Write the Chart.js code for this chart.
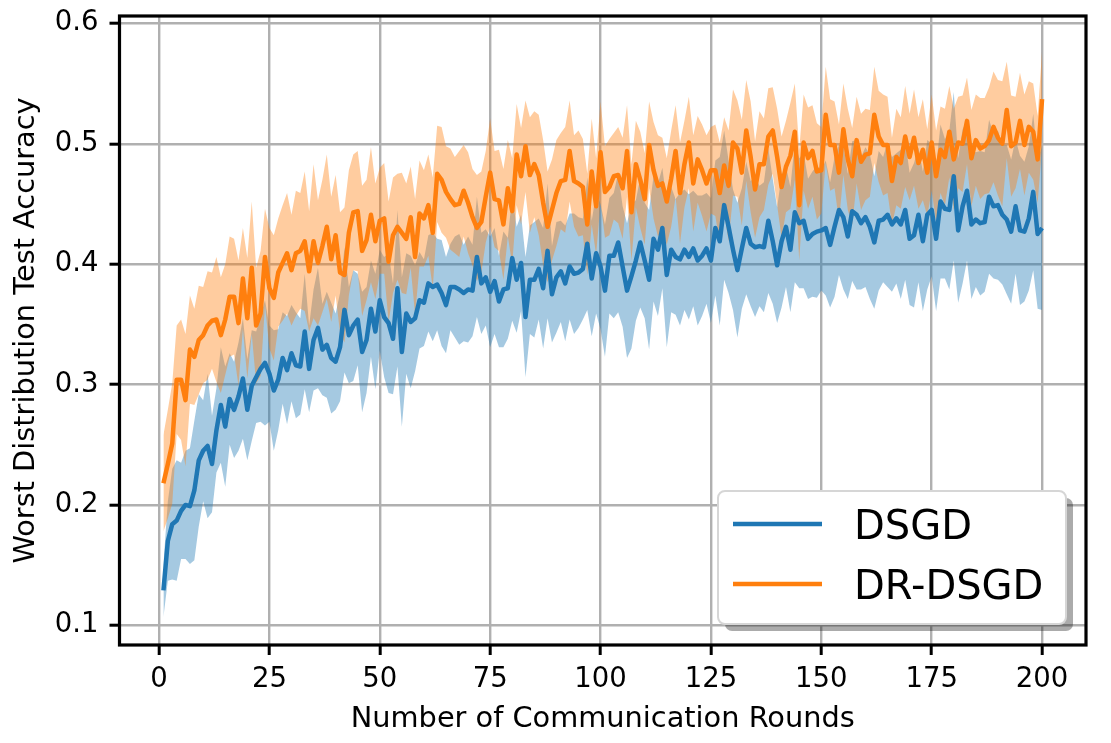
<!DOCTYPE html>
<html><head><meta charset="utf-8">
<script src="https://cdn.jsdelivr.net/npm/chart.js@4.4.0/dist/chart.umd.min.js"></script>
<style>html,body{margin:0;padding:0;background:#fff;overflow:hidden}</style>
</head><body>
<canvas id="c" width="1111" height="743" style="width:1111px;height:743px;display:block"></canvas>
<script>
const rounds = Array.from({length: 200}, (_, i) => i + 1);
const xTicks = [0, 25, 50, 75, 100, 125, 150, 175, 200];
const yTicks = [0.1, 0.2, 0.3, 0.4, 0.5, 0.6];
const seriesNames = ['DSGD', 'DR-DSGD'];

const dsgdMean = [
0.129,0.170,0.184,0.187,0.195,0.200,0.199,0.212,0.237,0.245,
0.249,0.234,0.262,0.283,0.265,0.288,0.279,0.290,0.305,0.279,
0.299,0.306,0.313,0.318,0.309,0.295,0.304,0.322,0.312,0.326,
0.316,0.315,0.344,0.313,0.337,0.347,0.329,0.333,0.322,0.319,
0.331,0.362,0.341,0.349,0.354,0.327,0.337,0.363,0.344,0.370,
0.356,0.351,0.338,0.380,0.327,0.359,0.352,0.355,0.370,0.368,
0.384,0.381,0.383,0.376,0.366,0.381,0.381,0.379,0.376,0.379,
0.378,0.406,0.384,0.389,0.377,0.386,0.369,0.379,0.380,0.405,
0.387,0.401,0.356,0.387,0.387,0.396,0.380,0.411,0.375,0.389,
0.394,0.384,0.398,0.392,0.393,0.396,0.417,0.388,0.409,0.398,
0.378,0.407,0.407,0.418,0.398,0.378,0.390,0.403,0.418,0.403,
0.387,0.421,0.412,0.430,0.391,0.412,0.406,0.404,0.412,0.406,
0.413,0.403,0.407,0.413,0.403,0.430,0.419,0.449,0.431,0.412,
0.395,0.413,0.430,0.417,0.414,0.415,0.414,0.436,0.419,0.399,
0.419,0.431,0.412,0.443,0.434,0.436,0.421,0.425,0.427,0.428,
0.430,0.416,0.431,0.445,0.439,0.423,0.444,0.441,0.434,0.439,
0.431,0.418,0.436,0.437,0.441,0.433,0.438,0.433,0.445,0.421,
0.424,0.441,0.419,0.441,0.445,0.421,0.452,0.446,0.445,0.473,
0.428,0.448,0.461,0.433,0.437,0.434,0.435,0.456,0.448,0.449,
0.441,0.437,0.427,0.448,0.428,0.427,0.438,0.460,0.425,0.430
];
const dsgdStd = [
0.022,0.033,0.046,0.050,0.040,0.045,0.048,0.058,0.055,0.042,
0.060,0.040,0.035,0.048,0.050,0.038,0.040,0.045,0.050,0.042,
0.046,0.038,0.044,0.052,0.040,0.050,0.042,0.038,0.045,0.040,
0.044,0.040,0.048,0.036,0.042,0.050,0.038,0.044,0.046,0.040,
0.045,0.052,0.040,0.046,0.038,0.050,0.044,0.040,0.048,0.042,
0.050,0.058,0.046,0.065,0.062,0.050,0.055,0.044,0.040,0.036,
0.040,0.045,0.038,0.044,0.040,0.036,0.042,0.046,0.040,0.044,
0.038,0.050,0.042,0.040,0.046,0.044,0.038,0.048,0.042,0.052,
0.044,0.040,0.050,0.045,0.048,0.042,0.050,0.056,0.040,0.046,
0.042,0.048,0.044,0.050,0.046,0.042,0.055,0.048,0.050,0.052,
0.055,0.048,0.052,0.058,0.050,0.056,0.060,0.050,0.054,0.048,
0.058,0.052,0.055,0.050,0.060,0.052,0.048,0.055,0.050,0.052,
0.048,0.054,0.050,0.046,0.052,0.056,0.070,0.062,0.055,0.050,
0.056,0.050,0.055,0.052,0.058,0.050,0.054,0.060,0.052,0.048,
0.055,0.050,0.052,0.058,0.054,0.056,0.050,0.052,0.055,0.050,
0.056,0.052,0.058,0.054,0.060,0.052,0.058,0.062,0.055,0.058,
0.060,0.055,0.058,0.052,0.060,0.056,0.054,0.062,0.058,0.055,
0.060,0.056,0.058,0.062,0.055,0.060,0.064,0.058,0.066,0.070,
0.060,0.064,0.058,0.062,0.056,0.060,0.058,0.064,0.060,0.062,
0.058,0.062,0.060,0.056,0.062,0.058,0.060,0.065,0.062,0.068
];
const drMean = [
0.218,0.234,0.251,0.304,0.304,0.287,0.329,0.323,0.337,0.341,
0.349,0.353,0.354,0.341,0.354,0.373,0.373,0.351,0.388,0.355,
0.397,0.349,0.359,0.406,0.380,0.372,0.393,0.401,0.409,0.395,
0.409,0.411,0.419,0.394,0.419,0.401,0.415,0.431,0.404,0.424,
0.393,0.391,0.426,0.443,0.444,0.411,0.420,0.441,0.419,0.436,
0.438,0.402,0.424,0.431,0.426,0.421,0.439,0.406,0.442,0.438,
0.449,0.426,0.475,0.470,0.460,0.454,0.449,0.450,0.461,0.451,
0.439,0.430,0.435,0.456,0.476,0.454,0.453,0.433,0.463,0.444,
0.491,0.473,0.498,0.474,0.483,0.474,0.451,0.431,0.445,0.459,
0.469,0.470,0.494,0.469,0.467,0.464,0.433,0.477,0.448,0.493,
0.460,0.464,0.473,0.474,0.463,0.494,0.443,0.483,0.470,0.454,
0.499,0.478,0.465,0.467,0.452,0.471,0.494,0.459,0.483,0.501,
0.467,0.487,0.478,0.467,0.478,0.478,0.459,0.482,0.465,0.501,
0.496,0.476,0.511,0.489,0.462,0.483,0.483,0.506,0.511,0.489,
0.464,0.481,0.490,0.510,0.449,0.501,0.488,0.494,0.477,0.478,
0.524,0.499,0.499,0.476,0.512,0.487,0.473,0.503,0.485,0.491,
0.492,0.524,0.506,0.499,0.499,0.469,0.489,0.484,0.506,0.489,
0.505,0.484,0.495,0.476,0.501,0.473,0.495,0.489,0.510,0.487,
0.501,0.500,0.519,0.488,0.503,0.496,0.498,0.503,0.514,0.505,
0.500,0.528,0.498,0.501,0.519,0.499,0.514,0.510,0.487,0.537
];
const drStd = [
0.040,0.045,0.050,0.045,0.050,0.055,0.045,0.040,0.045,0.040,
0.045,0.040,0.052,0.048,0.046,0.050,0.048,0.052,0.042,0.050,
0.055,0.048,0.052,0.040,0.050,0.052,0.045,0.048,0.050,0.046,
0.052,0.048,0.058,0.050,0.064,0.052,0.055,0.060,0.052,0.050,
0.050,0.056,0.052,0.048,0.050,0.054,0.050,0.056,0.048,0.044,
0.046,0.050,0.048,0.044,0.050,0.046,0.042,0.048,0.044,0.040,
0.042,0.046,0.040,0.044,0.038,0.042,0.040,0.044,0.038,0.042,
0.040,0.044,0.042,0.038,0.045,0.040,0.042,0.046,0.040,0.044,
0.042,0.040,0.038,0.048,0.044,0.050,0.052,0.046,0.042,0.044,
0.040,0.044,0.042,0.038,0.044,0.040,0.042,0.044,0.040,0.042,
0.038,0.040,0.036,0.040,0.042,0.038,0.040,0.036,0.040,0.038,
0.036,0.040,0.042,0.038,0.036,0.040,0.038,0.042,0.036,0.038,
0.040,0.036,0.038,0.040,0.036,0.038,0.042,0.040,0.046,0.044,
0.040,0.044,0.042,0.046,0.040,0.044,0.038,0.040,0.036,0.040,
0.042,0.038,0.044,0.040,0.046,0.040,0.042,0.038,0.040,0.036,
0.040,0.038,0.036,0.040,0.038,0.042,0.040,0.036,0.040,0.038,
0.036,0.040,0.038,0.042,0.040,0.036,0.040,0.038,0.042,0.036,
0.040,0.038,0.042,0.036,0.040,0.038,0.036,0.040,0.038,0.042,
0.038,0.040,0.036,0.040,0.038,0.042,0.040,0.044,0.046,0.048,
0.052,0.040,0.042,0.038,0.040,0.042,0.038,0.040,0.036,0.040
];

const BLUE = '#1f77b4', ORANGE = '#ff7f0e';
const BLUE_BAND = 'rgba(31,119,180,0.4)', ORANGE_BAND = 'rgba(255,127,14,0.4)';
const FONT = "'DejaVu Sans', sans-serif";

const pts = (arr) => rounds.map((r, i) => ({x: r, y: arr[i]}));
const band = (m, s, sign) => rounds.map((r, i) => ({x: r, y: m[i] + sign * s[i]}));

const bandDs = (data, color, order, fill) => ({
  data, borderWidth: 0, borderColor: 'rgba(0,0,0,0)', backgroundColor: color,
  pointRadius: 0, fill, order, tension: 0
});

const datasets = [
  bandDs(band(dsgdMean, dsgdStd, -1), BLUE_BAND, 5, false),
  bandDs(band(dsgdMean, dsgdStd, 1), BLUE_BAND, 5, '-1'),
  bandDs(band(drMean, drStd, -1), ORANGE_BAND, 4, false),
  bandDs(band(drMean, drStd, 1), ORANGE_BAND, 4, '-1'),
  {label: seriesNames[0], data: pts(dsgdMean), borderColor: BLUE, borderWidth: 4.5, pointRadius: 0, fill: false, order: 1, tension: 0, borderJoinStyle: 'round', borderCapStyle: 'butt'},
  {label: seriesNames[1], data: pts(drMean), borderColor: ORANGE, borderWidth: 4.5, pointRadius: 0, fill: false, order: 0, tension: 0, borderJoinStyle: 'round', borderCapStyle: 'butt'}
];

const framePlugin = {
  id: 'frame',
  afterDatasetsDraw(chart) {
    const {ctx, chartArea: a} = chart;
    ctx.save();
    ctx.strokeStyle = '#000';
    ctx.lineWidth = 3.2;
    ctx.lineJoin = 'miter';
    ctx.strokeRect(a.left, a.top, a.right - a.left, a.bottom - a.top);
    ctx.restore();
  }
};

const legendPlugin = {
  id: 'boxLegend',
  afterDraw(chart) {
    const {ctx} = chart;
    const x = 718, y = 491, w = 348, h = 133, r = 7;
    const rr = (ox, oy) => {
      ctx.beginPath();
      ctx.moveTo(ox + r, oy);
      ctx.lineTo(ox + w - r, oy);
      ctx.arcTo(ox + w, oy, ox + w, oy + r, r);
      ctx.lineTo(ox + w, oy + h - r);
      ctx.arcTo(ox + w, oy + h, ox + w - r, oy + h, r);
      ctx.lineTo(ox + r, oy + h);
      ctx.arcTo(ox, oy + h, ox, oy + h - r, r);
      ctx.lineTo(ox, oy + r);
      ctx.arcTo(ox, oy, ox + r, oy, r);
      ctx.closePath();
    };
    ctx.save();
    rr(x + 7, y + 7);
    ctx.fillStyle = 'rgba(0,0,0,0.33)';
    ctx.fill();
    rr(x, y);
    ctx.fillStyle = '#fff';
    ctx.fill();
    ctx.strokeStyle = '#d6d6d6';
    ctx.lineWidth = 2;
    ctx.stroke();
    const items = [datasets[4], datasets[5]];
    const rows = [524, 584];
    items.forEach((d, i) => {
      ctx.strokeStyle = d.borderColor;
      ctx.lineWidth = 4.3;
      ctx.beginPath();
      ctx.moveTo(733, rows[i]);
      ctx.lineTo(822, rows[i]);
      ctx.stroke();
      ctx.fillStyle = '#000';
      ctx.font = "40px " + FONT;
      ctx.textBaseline = 'alphabetic';
      ctx.textAlign = 'left';
      ctx.fillText(d.label, 854, rows[i] + 14.5);
    });
    ctx.restore();
  }
};

new Chart(document.getElementById('c'), {
  type: 'line',
  data: {datasets},
  options: {
    responsive: false,
    animation: false,
    events: [],
    layout: {padding: {top: 16, right: 25, left: 0, bottom: 0}},
    plugins: {legend: {display: false}, tooltip: {enabled: false}},
    scales: {
      x: {
        type: 'linear', min: -8.95, max: 209.95,
        afterFit(s) { s.height = 98; s.paddingLeft = 0; s.paddingRight = 0; },
        afterBuildTicks(s) { s.ticks = xTicks.map(v => ({value: v})); },
        border: {display: false},
        grid: {color: '#b0b0b0', lineWidth: 2.4, drawTicks: true, tickLength: 10, tickColor: '#000', tickWidth: 3},
        ticks: {color: '#000', font: {family: FONT, size: 27.5}, padding: 8, maxRotation: 0, autoSkip: false, callback: v => String(v)},
        title: {display: true, text: 'Number of Communication Rounds', color: '#000', font: {family: FONT, size: 28.8}, padding: {top: 0, bottom: 6}}
      },
      y: {
        type: 'linear', min: 0.08364, max: 0.6061,
        afterFit(s) { s.width = 119.5; s.paddingTop = 0; s.paddingBottom = 0; },
        afterBuildTicks(s) { s.ticks = yTicks.map(v => ({value: v})); },
        border: {display: false},
        grid: {color: '#b0b0b0', lineWidth: 2.4, drawTicks: true, tickLength: 10, tickColor: '#000', tickWidth: 3},
        ticks: {color: '#000', font: {family: FONT, size: 27.5}, padding: 11, autoSkip: false, callback: v => v.toFixed(1)},
        title: {display: true, text: 'Worst Distribution Test Accuracy', color: '#000', font: {family: FONT, size: 28.8}, padding: {top: 9, bottom: 0}}
      }
    }
  },
  plugins: [framePlugin, legendPlugin]
});
</script>
</body></html>
